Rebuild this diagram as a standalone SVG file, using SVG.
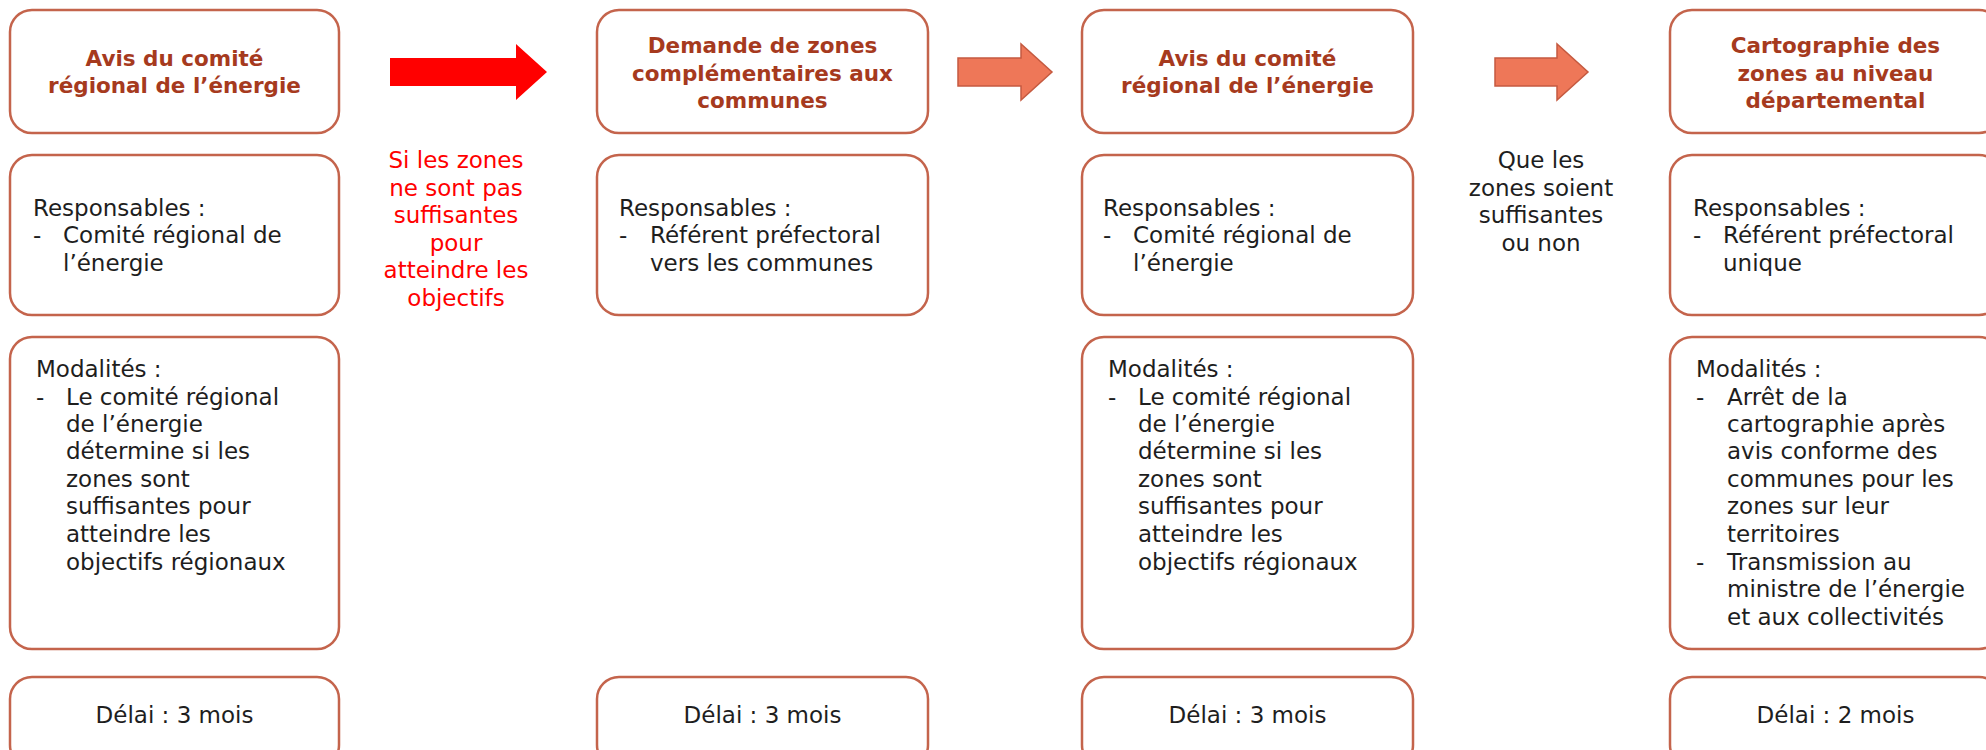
<svg xmlns="http://www.w3.org/2000/svg" width="1986" height="750" viewBox="0 0 1986 750">
<style>
.box{fill:#fff;stroke:#C4644C;stroke-width:2.5}
.t{font-family:"DejaVu Sans","Liberation Sans",sans-serif;font-weight:bold;font-size:21.5px;fill:#A63A1E;text-anchor:middle}
.b{font-family:"DejaVu Sans","Liberation Sans",sans-serif;font-size:23px;fill:#1E1E1E}
.c{text-anchor:middle}
.red{fill:#FF0000}
.arr{fill:#EE7758;stroke:#C55A40;stroke-width:1.5}
</style>
<rect width="1986" height="750" fill="#fff"/>
<g id="connectors">
<path d="M390,58 L516,58 L516,44 L547,72 L516,100 L516,86 L390,86 Z" fill="#FF0000"/>
<path class="arr" d="M958,58 L1021,58 L1021,44 L1052,72 L1021,100 L1021,86 L958,86 Z"/>
<path class="arr" d="M1495,58 L1557,58 L1557,44 L1588,72 L1557,100 L1557,86 L1495,86 Z"/>
<text class="b c red" x="456"><tspan x="456" y="168">Si les zones</tspan><tspan x="456" y="196">ne sont pas</tspan><tspan x="456" y="223">suffisantes</tspan><tspan x="456" y="251">pour</tspan><tspan x="456" y="278">atteindre les</tspan><tspan x="456" y="306">objectifs</tspan></text>
<text class="b c" x="1541"><tspan x="1541" y="168">Que les</tspan><tspan x="1541" y="196">zones soient</tspan><tspan x="1541" y="223">suffisantes</tspan><tspan x="1541" y="251">ou non</tspan></text>
</g>
<g id="col1-title"><rect class="box" x="10" y="10" width="329" height="123" rx="22"/>
<text class="t"><tspan x="174.5" y="66">Avis du comité</tspan><tspan x="174.5" y="93">régional de l’énergie</tspan></text></g>
<g id="col1-resp"><rect class="box" x="10" y="155" width="329" height="160" rx="22"/>
<text class="b"><tspan x="33" y="216">Responsables :</tspan><tspan x="33" y="243">-</tspan><tspan x="63" y="243">Comité régional de</tspan><tspan x="63" y="271">l’énergie</tspan></text></g>
<g id="col1-mod"><rect class="box" x="10" y="337" width="329" height="312" rx="22"/>
<text class="b"><tspan x="36" y="377">Modalités :</tspan><tspan x="36" y="405">-</tspan><tspan x="66" y="405">Le comité régional</tspan><tspan x="66" y="432">de l’énergie</tspan><tspan x="66" y="459">détermine si les</tspan><tspan x="66" y="487">zones sont</tspan><tspan x="66" y="514">suffisantes pour</tspan><tspan x="66" y="542">atteindre les</tspan><tspan x="66" y="570">objectifs régionaux</tspan></text></g>
<g id="col1-delai"><rect class="box" x="10" y="677" width="329" height="90" rx="22"/>
<text class="b c" x="174.5" y="723">Délai : 3 mois</text></g>

<g id="col2-title"><rect class="box" x="597" y="10" width="331" height="123" rx="22"/>
<text class="t"><tspan x="762.5" y="53">Demande de zones</tspan><tspan x="762.5" y="81">complémentaires aux</tspan><tspan x="762.5" y="108">communes</tspan></text></g>
<g id="col2-resp"><rect class="box" x="597" y="155" width="331" height="160" rx="22"/>
<text class="b"><tspan x="619" y="216">Responsables :</tspan><tspan x="619" y="243">-</tspan><tspan x="650" y="243">Référent préfectoral</tspan><tspan x="650" y="271">vers les communes</tspan></text></g>
<g id="col2-delai"><rect class="box" x="597" y="677" width="331" height="90" rx="22"/>
<text class="b c" x="762.5" y="723">Délai : 3 mois</text></g>

<g id="col3-title"><rect class="box" x="1082" y="10" width="331" height="123" rx="22"/>
<text class="t"><tspan x="1247.5" y="66">Avis du comité</tspan><tspan x="1247.5" y="93">régional de l’énergie</tspan></text></g>
<g id="col3-resp"><rect class="box" x="1082" y="155" width="331" height="160" rx="22"/>
<text class="b"><tspan x="1103" y="216">Responsables :</tspan><tspan x="1103" y="243">-</tspan><tspan x="1133" y="243">Comité régional de</tspan><tspan x="1133" y="271">l’énergie</tspan></text></g>
<g id="col3-mod"><rect class="box" x="1082" y="337" width="331" height="312" rx="22"/>
<text class="b"><tspan x="1108" y="377">Modalités :</tspan><tspan x="1108" y="405">-</tspan><tspan x="1138" y="405">Le comité régional</tspan><tspan x="1138" y="432">de l’énergie</tspan><tspan x="1138" y="459">détermine si les</tspan><tspan x="1138" y="487">zones sont</tspan><tspan x="1138" y="514">suffisantes pour</tspan><tspan x="1138" y="542">atteindre les</tspan><tspan x="1138" y="570">objectifs régionaux</tspan></text></g>
<g id="col3-delai"><rect class="box" x="1082" y="677" width="331" height="90" rx="22"/>
<text class="b c" x="1247.5" y="723">Délai : 3 mois</text></g>

<g id="col4-title"><rect class="box" x="1670" y="10" width="331" height="123" rx="22"/>
<text class="t"><tspan x="1835.5" y="53">Cartographie des</tspan><tspan x="1835.5" y="81">zones au niveau</tspan><tspan x="1835.5" y="108">départemental</tspan></text></g>
<g id="col4-resp"><rect class="box" x="1670" y="155" width="331" height="160" rx="22"/>
<text class="b"><tspan x="1693" y="216">Responsables :</tspan><tspan x="1693" y="243">-</tspan><tspan x="1723" y="243">Référent préfectoral</tspan><tspan x="1723" y="271">unique</tspan></text></g>
<g id="col4-mod"><rect class="box" x="1670" y="337" width="331" height="312" rx="22"/>
<text class="b"><tspan x="1696" y="377">Modalités :</tspan><tspan x="1696" y="405">-</tspan><tspan x="1727" y="405">Arrêt de la</tspan><tspan x="1727" y="432">cartographie après</tspan><tspan x="1727" y="459">avis conforme des</tspan><tspan x="1727" y="487">communes pour les</tspan><tspan x="1727" y="514">zones sur leur</tspan><tspan x="1727" y="542">territoires</tspan><tspan x="1696" y="570">-</tspan><tspan x="1727" y="570">Transmission au</tspan><tspan x="1727" y="597">ministre de l’énergie</tspan><tspan x="1727" y="625">et aux collectivités</tspan></text></g>
<g id="col4-delai"><rect class="box" x="1670" y="677" width="331" height="90" rx="22"/>
<text class="b c" x="1835.5" y="723">Délai : 2 mois</text></g>
</svg>
